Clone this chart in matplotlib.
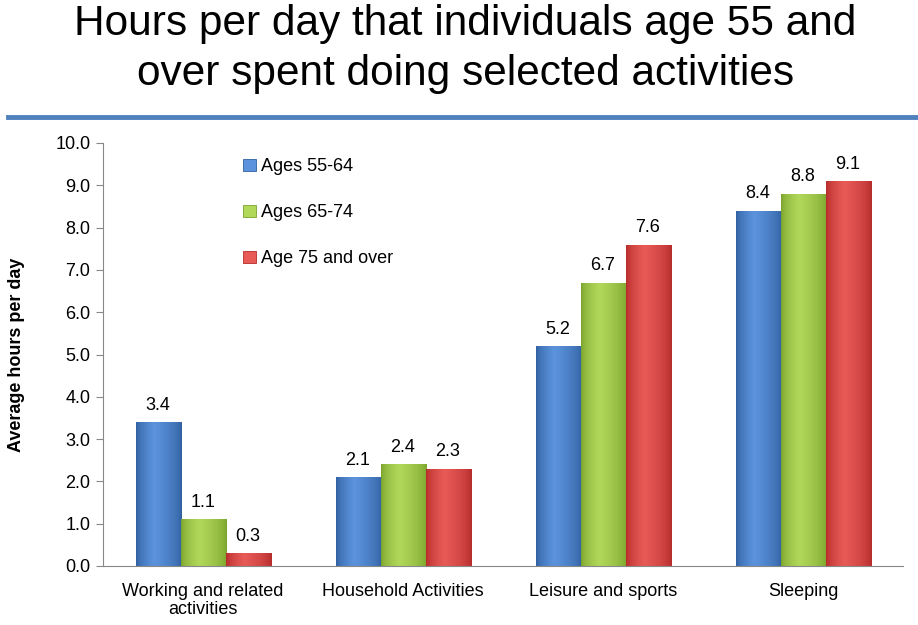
import matplotlib
matplotlib.use("Agg")
import matplotlib.pyplot as plt
from matplotlib.colors import LinearSegmentedColormap
import numpy as np

categories = ["Working and related\nactivities", "Household Activities",
              "Leisure and sports", "Sleeping"]
series_names = ["Ages 55-64", "Ages 65-74", "Age 75 and over"]
ages_55_64 = [3.4, 2.1, 5.2, 8.4]
ages_65_74 = [1.1, 2.4, 6.7, 8.8]
age_75_over = [0.3, 2.3, 7.6, 9.1]
yticks = [0.0, 1.0, 2.0, 3.0, 4.0, 5.0, 6.0, 7.0, 8.0, 9.0, 10.0]

# (dark edge, light centre) per series
palette = [("#2f5e9e", "#5b93dc"), ("#79a22c", "#b2d85a"), ("#b32a2a", "#e85a56")]

plt.rcParams["font.family"] = ["Liberation Sans", "DejaVu Sans"]

fig = plt.figure(figsize=(9.18, 6.25), dpi=100)
ax = fig.add_axes([0.1122, 0.0944, 0.8715, 0.6768])

fig.text(0.507, 0.921, "Hours per day that individuals age 55 and\nover spent doing selected activities",
         ha="center", va="center", fontsize=30.5, linespacing=1.32)
fig.add_artist(plt.Line2D([0.009, 1.0], [0.813, 0.813], color="#4f81bd", lw=3.5))

x = np.arange(len(categories))
width = 0.225
all_series = [ages_55_64, ages_65_74, age_75_over]

grad = np.concatenate([np.linspace(0, 1, 40), np.linspace(1, 0, 60)]) ** 0.6
grad = grad.reshape(1, -1)

for i, (vals, name) in enumerate(zip(all_series, series_names)):
    dark, light = palette[i]
    cmap = LinearSegmentedColormap.from_list(name, [dark, light])
    bars = ax.bar(x + (i - 1) * width, vals, width, color=light, label=name,
                  edgecolor=dark, linewidth=0.6, zorder=2)
    for b, v in zip(bars, vals):
        x0, y0 = b.get_x(), b.get_y()
        im = ax.imshow(grad, cmap=cmap, aspect="auto", zorder=2.5,
                       extent=(x0, x0 + b.get_width(), y0, y0 + b.get_height()))
        im.set_clip_path(b)
        ax.text(b.get_x() + b.get_width() / 2, v + 0.2, f"{v:.1f}",
                ha="center", va="bottom", fontsize=13)

ax.set_xlim(-0.5, len(categories) - 0.5)
ax.set_ylim(0, 10)
ax.set_yticks(yticks)
ax.set_yticklabels([f"{t:.1f}" for t in yticks], fontsize=13)
ax.set_xticks(x)
ax.set_xticklabels(categories, fontsize=13, linespacing=1.1)
ax.tick_params(axis="x", length=0, pad=12)
ax.tick_params(axis="y", length=5, color="#888888", pad=4)
for s in ["top", "right"]:
    ax.spines[s].set_visible(False)
ax.spines["left"].set_color("#888888")
ax.spines["bottom"].set_color("#888888")
ax.set_ylabel("Average hours per day", fontsize=13, fontweight="bold", labelpad=22)

leg = ax.legend(loc="upper left", bbox_to_anchor=(0.155, 1.002), frameon=False,
                fontsize=13, labelspacing=1.6, handlelength=0.7, handleheight=0.7,
                handletextpad=0.3)

fig.savefig("out.png", dpi=100)
